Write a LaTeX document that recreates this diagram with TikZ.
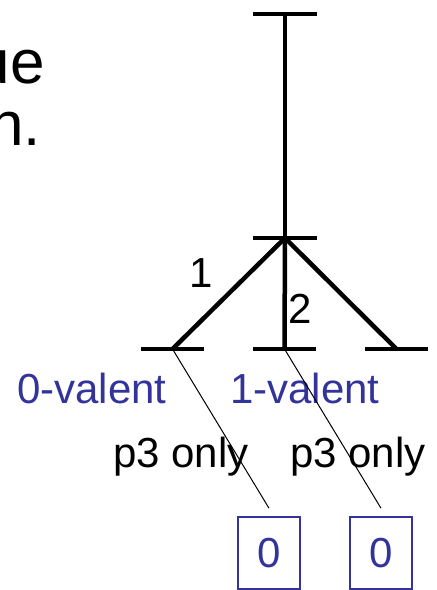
\documentclass[tikz,border=0pt]{standalone}
\usepackage{fontspec}
\setmainfont{Liberation Sans}
\usetikzlibrary{calc}
\definecolor{valblue}{RGB}{51,51,153}
\tikzset{
  bar/.style={line width=4.5pt},
  thin/.style={line width=1pt},
  big/.style={font=\fontsize{42}{50}\selectfont, inner sep=0pt},
  title/.style={font=\fontsize{62}{70}\selectfont, inner sep=0pt},
  val/.style={big, text=valblue},
  zbox/.style={draw=valblue, line width=1.6pt, text=valblue, minimum width=62pt, minimum height=72pt, inner sep=0pt, font=\fontsize{42}{50}\selectfont},
}
\begin{document}
\begin{tikzpicture}[x=1pt,y=-1pt]
\useasboundingbox (0,0) rectangle (437,590);
% clipped title fragments
\node[title, anchor=base east] (t1) at (45,83) {ue};
\node[title, anchor=base east] (t2) at (41,145) {n.};
% tree
\coordinate (top) at (285,14);
\coordinate (mid) at (285,238);
\coordinate (bl) at (172.5,349);
\coordinate (bm) at (284.5,349);
\coordinate (br) at (396.5,349);
\draw[bar] ($(top)+(-32,0)$) -- ($(top)+(32,0)$);
\draw[bar] ($(mid)+(-32,0)$) -- ($(mid)+(32,0)$);
\draw[bar] ($(bl)+(-31.5,0)$) -- ($(bl)+(31.5,0)$);
\draw[bar] ($(bm)+(-31.5,0)$) -- ($(bm)+(31.5,0)$);
\draw[bar] ($(br)+(-31.5,0)$) -- ($(br)+(31.5,0)$);
\draw[bar] (top) -- (mid);
\draw[bar] (mid) -- (bl);
\draw[bar] (mid) -- (bm);
\draw[bar] (mid) -- (br);
% edge labels
\node[big, anchor=base] (l1) at (201,287) {1};
\node[big, anchor=base] (l2) at (300,323) {2};
% valency labels
\node[val, anchor=base west] (v0) at (17,403) {0-valent};
\node[val, anchor=base west] (v1) at (230,403) {1-valent};
\node[big, anchor=base west] (p1) at (113,467) {p3 only};
\node[big, anchor=base west] (p2) at (290,467) {p3 only};
% boxes
\node[zbox] (b1) at (269,553) {0};
\node[zbox] (b2) at (381,553) {0};
\draw[thin] (bl) -- ([yshift=8pt]b1.north);
\draw[thin] (bm) -- ([yshift=8pt]b2.north);
\end{tikzpicture}
\end{document}
